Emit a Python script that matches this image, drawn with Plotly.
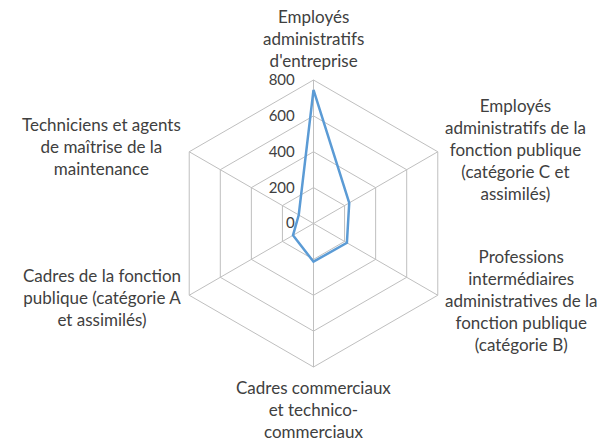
import math
import plotly.graph_objects as go

categories = [
    "Employés<br>administratifs<br>d'entreprise",
    "Employés<br>administratifs de la<br>fonction publique<br>(catégorie C et<br>assimilés)",
    "Professions<br>intermédiaires<br>administratives de la<br>fonction publique<br>(catégorie B)",
    "Cadres commerciaux<br>et technico-<br>commerciaux",
    "Cadres de la fonction<br>publique (catégorie A<br>et assimilés)",
    "Techniciens et agents<br>de maîtrise de la<br>maintenance",
]
values = [745, 230, 215, 213, 132, 95]
radial_ticks = [0, 200, 400, 600, 800]

W, H = 608, 441
CX, CY, R = 313.5, 223.5, 143.5  # polar centre and radius in pixels

fig = go.Figure()
fig.add_trace(go.Scatterpolar(
    r=values + values[:1],
    theta=categories + categories[:1],
    mode="lines",
    line=dict(color="#5B9BD5", width=2.5),
    showlegend=False,
))

font_family = "Lato, Open Sans, Arial"
text_color = "#404040"

# per-label placement relative to its vertex: (xanchor, yanchor, xshift, yshift)
placement = [
    ("center", "bottom", 0, 7),
    ("left", "middle", 5, 2),
    ("left", "middle", 5, -5),
    ("center", "top", 0, -8),
    ("right", "middle", -6, -2),
    ("right", "middle", -6, 5),
]

annotations = []
n = len(categories)
for i, lab in enumerate(categories):
    a = math.radians(90 - 360 * i / n)
    px = CX + R * math.cos(a)
    py = CY - R * math.sin(a)
    xa, ya, xs, ys = placement[i]
    annotations.append(dict(
        x=px / W, y=1 - py / H, xref="paper", yref="paper",
        text=lab, showarrow=False, align="center",
        xanchor=xa, yanchor=ya, xshift=xs, yshift=ys,
        font=dict(family=font_family, size=17, color=text_color),
    ))

fig.update_layout(
    width=W, height=H,
    margin=dict(l=0, r=0, t=0, b=0),
    paper_bgcolor="white",
    plot_bgcolor="white",
    font=dict(family=font_family, size=17, color=text_color),
    annotations=annotations,
    polar=dict(
        domain=dict(x=[(CX - R) / W, (CX + R) / W], y=[1 - (CY + R) / H, 1 - (CY - R) / H]),
        bgcolor="white",
        gridshape="linear",
        angularaxis=dict(
            rotation=90, direction="clockwise",
            showline=True, linecolor="#BFBFBF", linewidth=1,
            gridcolor="#BFBFBF", gridwidth=1,
            ticks="", showticklabels=False,
        ),
        radialaxis=dict(
            range=[0, 800], tickvals=radial_ticks,
            angle=90, tickangle=90,
            showline=False, gridcolor="#BFBFBF", gridwidth=1,
            ticks="outside", ticklen=13, tickcolor="rgba(0,0,0,0)",
            tickfont=dict(family=font_family, size=15, color=text_color),
            side="counterclockwise",
        ),
    ),
)
fig.write_html("out.html", config={"displayModeBar": False},
               post_script="document.body.style.margin='0';")
